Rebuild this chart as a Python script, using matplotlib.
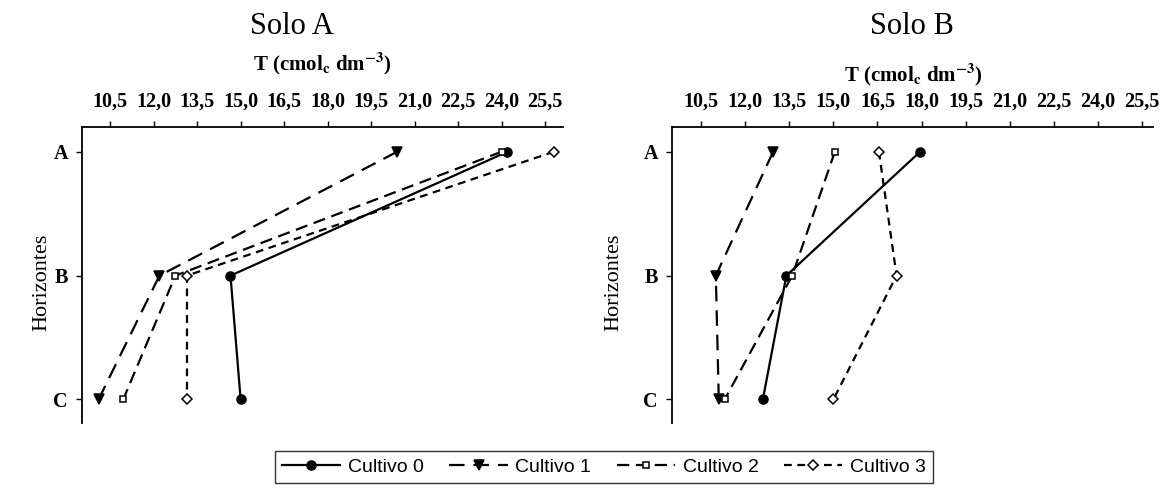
# Capacidade de troca catiônica (T) por horizonte - Solo A e Solo B
import matplotlib
matplotlib.use('Agg')
from matplotlib import pyplot as plt
import numpy as np

matplotlib.rcParams['font.family'] = ['Liberation Serif', 'DejaVu Serif']
matplotlib.rcParams['mathtext.fontset'] = 'stix'
matplotlib.rcParams['mathtext.default'] = 'bf'

# dados
horizontes = ['A', 'B', 'C']
x_ticks = [10.5, 12.0, 13.5, 15.0, 16.5, 18.0, 19.5, 21.0, 22.5, 24.0, 25.5]
tick_labels = ['10,5', '12,0', '13,5', '15,0', '16,5', '18,0', '19,5', '21,0', '22,5', '24,0', '25,5']

solo_a_cultivo0 = [24.2, 14.65, 15.0]
solo_a_cultivo1 = [20.4, 12.2, 10.1]
solo_a_cultivo2 = [24.0, 12.75, 10.95]
solo_a_cultivo3 = [25.8, 13.15, 13.15]

solo_b_cultivo0 = [17.95, 13.4, 12.6]
solo_b_cultivo1 = [12.95, 11.0, 11.1]
solo_b_cultivo2 = [15.05, 13.6, 11.3]
solo_b_cultivo3 = [16.55, 17.15, 15.0]

nomes = ['Cultivo 0', 'Cultivo 1', 'Cultivo 2', 'Cultivo 3']
estilos = [
    dict(linestyle='-', marker='o', markerfacecolor='black', markersize=6.5),
    dict(linestyle=(0, (7, 4)), marker='v', markerfacecolor='black', markersize=6.5),
    dict(linestyle=(0, (5.5, 3)), marker='s', markerfacecolor='white', markersize=5),
    dict(linestyle=(0, (3.5, 2.5)), marker='D', markerfacecolor='white', markersize=5),
]

fig = plt.figure(figsize=(11.61, 4.88), dpi=100)
ax1 = fig.add_axes([0.0704, 0.1332, 0.4146, 0.6066])
ax2 = fig.add_axes([0.5786, 0.1332, 0.4146, 0.6066])

y = np.arange(len(horizontes))
series = [
    (ax1, [solo_a_cultivo0, solo_a_cultivo1, solo_a_cultivo2, solo_a_cultivo3], (9.52, 26.12)),
    (ax2, [solo_b_cultivo0, solo_b_cultivo1, solo_b_cultivo2, solo_b_cultivo3], (9.5, 25.88)),
]

linhas = []
for ax, dados, xlim in series:
    linhas = []
    for d, nome, est in zip(dados, nomes, estilos):
        l, = ax.plot(d, y, color='black', linewidth=1.6, markeredgecolor='black',
                     markeredgewidth=1.1, label=nome, **est)
        linhas.append(l)
    ax.set_xlim(*xlim)
    ax.set_ylim(2.19, -0.2)
    ax.xaxis.tick_top()
    ax.set_xticks(x_ticks)
    ax.set_xticklabels(tick_labels, fontsize=14.5, fontweight='bold')
    ax.set_yticks(y)
    ax.set_yticklabels(horizontes, fontsize=14.5, fontweight='bold')
    ax.tick_params(axis='x', direction='out', length=4, width=1, pad=7)
    ax.tick_params(axis='y', direction='out', length=4, width=1, pad=6)
    ax.spines['right'].set_visible(False)
    ax.spines['bottom'].set_visible(False)
    ax.spines['left'].set_linewidth(1.3)
    ax.spines['top'].set_linewidth(1.3)

# títulos e rótulos
fig.text(292 / 1161, 1 - 26 / 488, 'Solo A', fontsize=22, ha='center', va='center')
fig.text(912 / 1161, 1 - 26 / 488, 'Solo B', fontsize=22, ha='center', va='center')
xlabel = r'T (cmol$_\mathbf{c}$ dm$^\mathbf{-3}$)'
fig.text(322 / 1161, 1 - 64 / 488, xlabel, fontsize=15, fontweight='bold', ha='center', va='center')
fig.text(913 / 1161, 1 - 75 / 488, xlabel, fontsize=15, fontweight='bold', ha='center', va='center')
fig.text(42 / 1161, 1 - 282 / 488, 'Horizontes', fontsize=16, rotation=90, ha='center', va='center')
fig.text(614 / 1161, 1 - 282 / 488, 'Horizontes', fontsize=16, rotation=90, ha='center', va='center')

leg = fig.legend(handles=linhas, labels=nomes, loc='center', ncol=4,
                 bbox_to_anchor=(604 / 1161, 1 - 467 / 488),
                 prop={'family': 'Liberation Sans', 'size': 14},
                 frameon=True, fancybox=False, edgecolor='black',
                 handlelength=3.0, handletextpad=0.4, columnspacing=1.3,
                 borderpad=0.35, borderaxespad=0.2)
leg.get_frame().set_linewidth(1.0)

plt.savefig('out.png', dpi=100)
